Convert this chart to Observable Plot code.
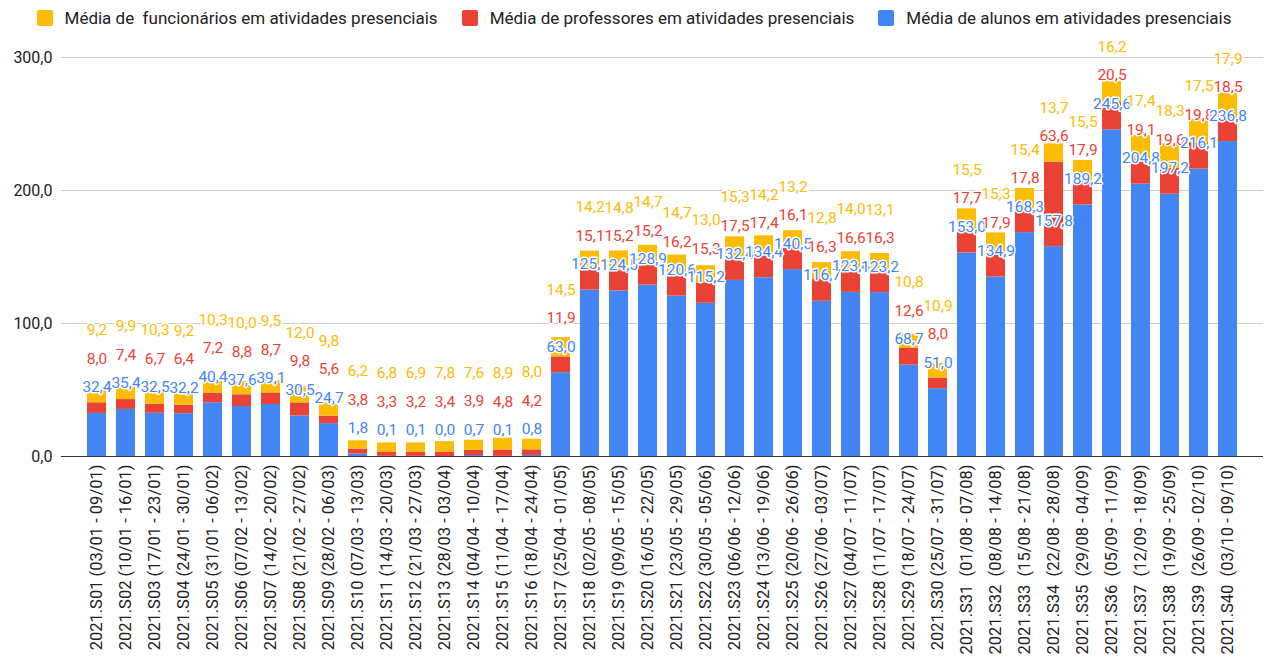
<!DOCTYPE html>
<html>
<head>
<meta charset="utf-8">
<script src="https://cdn.jsdelivr.net/npm/d3@7"></script>
<script src="https://cdn.jsdelivr.net/npm/@observablehq/plot@0.6"></script>
<style>
  html, body { margin: 0; padding: 0; background: #fff; }
  body { width: 1268px; height: 660px; overflow: hidden; font-family: Roboto, "Noto Sans", sans-serif; }
  #legend { height: 35px; display: flex; justify-content: center; align-items: center; gap: 24px; font-size: 17px; color: #222; }
  #legend .item { display: flex; align-items: center; gap: 12px; white-space: pre; }
  #legend .sw { width: 16px; height: 16px; border-radius: 2px; }
  svg { display: block; }
</style>
</head>
<body>
<div id="legend"></div>
<div id="chart"></div>
<script>
const weeks = [
  "2021.S01 (03/01 - 09/01)", "2021.S02 (10/01 - 16/01)", "2021.S03 (17/01 - 23/01)", "2021.S04 (24/01 - 30/01)",
  "2021.S05 (31/01 - 06/02)", "2021.S06 (07/02 - 13/02)", "2021.S07 (14/02 - 20/02)", "2021.S08 (21/02 - 27/02)",
  "2021.S09 (28/02 - 06/03)", "2021.S10 (07/03 - 13/03)", "2021.S11 (14/03 - 20/03)", "2021.S12 (21/03 - 27/03)",
  "2021.S13 (28/03 - 03/04)", "2021.S14 (04/04 - 10/04)", "2021.S15 (11/04 - 17/04)", "2021.S16 (18/04 - 24/04)",
  "2021.S17 (25/04 - 01/05)", "2021.S18 (02/05 - 08/05)", "2021.S19 (09/05 - 15/05)", "2021.S20 (16/05 - 22/05)",
  "2021.S21 (23/05 - 29/05)", "2021.S22 (30/05 - 05/06)", "2021.S23 (06/06 - 12/06)", "2021.S24 (13/06 - 19/06)",
  "2021.S25 (20/06 - 26/06)", "2021.S26 (27/06 - 03/07)", "2021.S27 (04/07 - 11/07)", "2021.S28 (11/07 - 17/07)",
  "2021.S29 (18/07 - 24/07)", "2021.S30 (25/07 - 31/07)", "2021.S31\u00a0 (01/08 - 07/08)", "2021.S32\u00a0 (08/08 - 14/08)",
  "2021.S33\u00a0 (15/08 - 21/08)", "2021.S34\u00a0 (22/08 - 28/08)", "2021.S35\u00a0 (29/08 - 04/09)", "2021.S36\u00a0 (05/09 - 11/09)",
  "2021.S37\u00a0 (12/09 - 18/09)", "2021.S38\u00a0 (19/09 - 25/09)", "2021.S39\u00a0 (26/09 - 02/10)", "2021.S40\u00a0 (03/10 - 09/10)"
];
const alunos = [32.4, 35.4, 32.5, 32.2, 40.4, 37.6, 39.1, 30.5, 24.7, 1.8,
  0.1, 0.1, 0.0, 0.7, 0.1, 0.8, 63.0, 125.1, 124.5, 128.9,
  120.6, 115.2, 132.4, 134.4, 140.5, 116.7, 123.4, 123.2, 68.7, 51.0,
  153.0, 134.9, 168.3, 157.8, 189.2, 245.6, 204.8, 197.2, 216.1, 236.8];
const professores = [8.0, 7.4, 6.7, 6.4, 7.2, 8.8, 8.7, 9.8, 5.6, 3.8,
  3.3, 3.2, 3.4, 3.9, 4.8, 4.2, 11.9, 15.1, 15.2, 15.2,
  16.2, 15.3, 17.5, 17.4, 16.1, 16.3, 16.6, 16.3, 12.6, 8.0,
  17.7, 17.9, 17.8, 63.6, 17.9, 20.5, 19.1, 19.6, 19.8, 18.5];
const funcionarios = [9.2, 9.9, 10.3, 9.2, 10.3, 10.0, 9.5, 12.0, 9.8, 6.2,
  6.8, 6.9, 7.8, 7.6, 8.9, 8.0, 14.5, 14.2, 14.8, 14.7,
  14.7, 13.0, 15.3, 14.2, 13.2, 12.8, 14.0, 13.1, 10.8, 10.9,
  15.5, 15.3, 15.4, 13.7, 15.5, 16.2, 17.4, 18.3, 17.5, 17.9];
const seriesNames = [
  "Média de alunos em atividades presenciais",
  "Média de professores em atividades presenciais",
  "Média de  funcionários em atividades presenciais"
];
const seriesColors = ["#4285F4", "#EA4335", "#FBBC04"];
const yTicks = [0, 100, 200, 300];

// legend (top series first, as in the reference)
const legend = document.getElementById("legend");
[2, 1, 0].forEach(i => {
  const it = document.createElement("div");
  it.className = "item";
  const sw = document.createElement("div");
  sw.className = "sw";
  sw.style.background = seriesColors[i];
  const tx = document.createElement("span");
  tx.textContent = seriesNames[i];
  it.appendChild(sw); it.appendChild(tx);
  legend.appendChild(it);
});

const W = 1268, H = 625, MT = 22, MB = 204, ML = 61, MR = 5;
const k = (H - MT - MB) / 300; // px per unit
const valuesBySeries = [alunos, professores, funcionarios];

const rows = [];
const labels = [];
weeks.forEach((w, i) => {
  let top = 0, prevLabel = -Infinity;
  valuesBySeries.forEach((arr, s) => {
    const v = arr[i];
    rows.push({week: w, serie: seriesNames[s], value: v});
    top += v;
    const ly = Math.max(top + 26 / k, prevLabel + 28.5 / k);
    prevLabel = ly;
    labels.push({week: w, serie: seriesNames[s], y: ly, text: v.toFixed(1).replace(".", ","), color: seriesColors[s]});
  });
});

const fmt = d => d.toFixed(1).replace(".", ",");

const chart = Plot.plot({
  width: W, height: H,
  marginTop: MT, marginBottom: MB, marginLeft: ML, marginRight: MR,
  style: {fontFamily: "Roboto, sans-serif", background: "white", overflow: "visible"},
  x: {domain: weeks, paddingInner: 0.33, paddingOuter: 0.37, label: null, tickSize: 0, tickPadding: 9, tickRotate: -90},
  y: {domain: [0, 300], ticks: yTicks, label: null, tickSize: 0, tickPadding: 9, tickFormat: fmt},
  color: {domain: seriesNames, range: seriesColors},
  marks: [
    Plot.gridY(yTicks.filter(d => d > 0), {stroke: "#cccccc", strokeOpacity: 1, strokeWidth: 1}),
    Plot.axisY({ticks: yTicks, tickSize: 0, tickPadding: 9, tickFormat: fmt, fontSize: 16, fill: "#222", label: null}),
    Plot.axisX({tickSize: 0, tickPadding: 8, tickRotate: -90, fontSize: 16.5, fill: "#222", label: null}),
    Plot.barY(rows, {x: "week", y: "value", fill: "serie", order: seriesNames}),
    Plot.ruleY([0], {stroke: "#333", strokeWidth: 1}),
    Plot.text(labels, {x: "week", y: "y", text: "text", fill: "color", stroke: "white", strokeWidth: 3, paintOrder: "stroke", fontSize: 15.5})
  ]
});
document.getElementById("chart").appendChild(chart);
</script>
</body>
</html>
